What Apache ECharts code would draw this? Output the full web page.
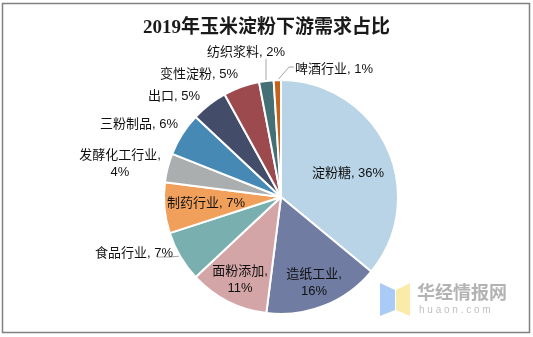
<!DOCTYPE html>
<html>
<head>
<meta charset="utf-8">
<script src="https://cdn.jsdelivr.net/npm/echarts@6/dist/echarts.min.js"></script>
<style>
html,body{margin:0;padding:0;background:#fff;}
#chart{width:533px;height:337px;}
</style>
</head>
<body>
<div id="chart"></div>
<script>
var categories = ['淀粉糖','造纸工业','面粉添加','食品行业','制药行业','发酵化工行业','三粉制品','出口','变性淀粉','纺织浆料','啤酒行业'];
var values = [36,16,11,7,7,4,6,5,5,2,1];
var colors = ['#B8D4E6','#707CA2','#D4A5A6','#7AAFAF','#F1A05C','#AAAEAE','#4689B5','#434C68','#9C4A4D','#436F75','#C6611C'];
// label text (with line breaks as in the reference)
var labelTexts = ['淀粉糖, 36%','造纸工业,\n16%','面粉添加,\n11%','食品行业, 7%','制药行业, 7%','发酵化工行业,\n4%','三粉制品, 6%','出口, 5%','变性淀粉, 5%','纺织浆料, 2%','啤酒行业, 1%'];

// label placement (layout only)
var labelPos = [[348,173],[314,283],[240,280],[134,253],[206,203],[120,164],[139,124],[174,96],[199,74],[246,52],[334,69]];
var leaderLines = {
  3: [[181,256],[170,257],[157,257]],
  9: [[266,82],[266,70],[266,59]],
  10: [[276,82],[289,67],[294,67]]
};

var chart = echarts.init(document.getElementById('chart'), null, {renderer:'canvas'});
var data = categories.map(function(c,i){
  return {
    name: c,
    value: values[i],
    itemStyle: {color: colors[i]},
    label: {formatter: labelTexts[i]},
    labelLine: {show: !!leaderLines[i]}
  };
});

chart.setOption({
  backgroundColor: '#fff',
  animation: false,
  title: {
    text: '2019年玉米淀粉下游需求占比',
    left: 'center',
    top: 14,
    textStyle: {fontFamily: '"Liberation Serif","Noto Sans CJK SC"', fontWeight: 'bold', fontSize: 19, color: '#1a1a1a'}
  },
  graphic: [
    {type:'rect', shape:{x:2.5,y:3.5,width:527,height:329}, style:{fill:'none', stroke:'#808080', lineWidth:1.5}, z:-1},
    {type:'polygon', shape:{points:[[380,283],[395,290],[395,310],[380,316]]}, style:{fill:'#A9CBF5'}},
    {type:'polygon', shape:{points:[[396,290],[410,283],[410,316],[396,310]]}, style:{fill:'#FBEBA8'}},
    {type:'text', left:417, top:283, style:{text:'华经情报网', fill:'#B3B3B3', font:'bold 18px "Noto Sans CJK SC"'}},
    {type:'text', left:419, top:305, style:{text:'h u a o n . c o m', fill:'#C0C0C0', font:'10px "Liberation Sans"'}}
  ],
  series: [{
    type: 'pie',
    center: [281,197],
    radius: [0,117],
    startAngle: 90,
    clockwise: true,
    avoidLabelOverlap: false,
    itemStyle: {borderColor:'#fff', borderWidth:2},
    label: {
      show: true,
      position: 'outside',
      color: '#111',
      fontSize: 13,
      lineHeight: 17,
      fontFamily: '"Liberation Sans","Noto Sans CJK SC"',
      align: 'center'
    },
    labelLine: {lineStyle: {color:'#A6A6A6', width:1}},
    labelLayout: function(p){
      var i = p.dataIndex;
      var o = {x: labelPos[i][0], y: labelPos[i][1], align:'center', verticalAlign:'middle'};
      if (leaderLines[i]) o.labelLinePoints = leaderLines[i];
      return o;
    },
    data: data
  }]
});
</script>
</body>
</html>
